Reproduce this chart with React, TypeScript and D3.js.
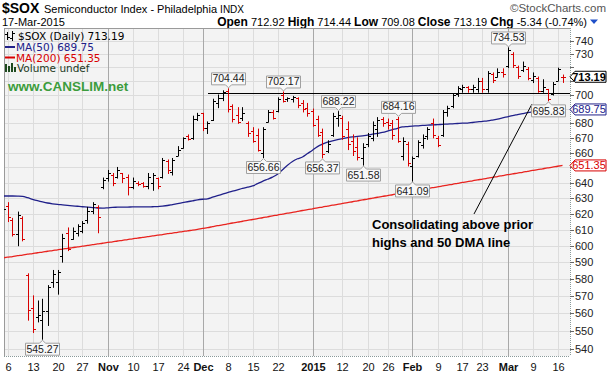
import React from 'react';
import * as d3 from 'd3';

// Bars start on Oct 3, 2014 (index -1) and end on Mar 17, 2015 (index 111)
const FIRST_INDEX = -1;
const opens = [619,625,616,607,617,582,563,558,556,561,578,578,594,608,604,608,609,616,622,624,637,643,645,644,646,644,637,640,639.5,638,640,643,644,654,647,658,663,671,670,683,687,677,682,694,698,703,692,686,684,680,675,672,660,681,688,689,700,697,697,698,694,691,689,683,674,661,672,684,684,676,668,664,656,666,670,676,683,681,680,683,658,666,651,658,665,671,680,670,672,688,692,701,704,706,704,704,710,704,715,713,717,721,730,720,718,719,711,712,703,704,701,710,712.92];
const highs = [626,627,617,621,618,583,570,567,568,576,585,585,607,611,611,613,615,624,627,625,643,648,646,650,646,645,643,640.5,640,646,646,643,656,655,656,664,670,672,685,687,687,681,697,700,703,704.44,693,691,691,681,677,676,677,689,689,698,702.17,698,699,698,696,694,690,685,676,668,687,688.22,685,681,672,670,666,673,681,684,684,683,682,684.16,670,667,657,668,672,677,683,671,689,692,701,706,707,706,707,712,712,717,716,719,719,734.53,731,721,724,720,716,713,711,704,709,719.5,714.44];
const lows = [617,615,606,600,603,556,549,555,545.27,553,575,571,590,597,604,606,608,614,620,608,636,641,638,643,640,632,636,638,637,636,635,636,643,646,645,658,663,668.5,669,682,675,673,682,691,696,688,681,680,682,671,667,661,656.66,681,683,688,695,695.5,695,691,688,685,678,671,656.37,660,671,678,669,662,658,655,651.58,664,668,671,678,676,669,667,655,651,641.09,657,663,669,670,664,671,685,691,699,702,702,702,702,702,702,709,713,713,720,720,712,717,711,709,702,702,695.83,700,710.5,709.08];
const closes = [623,618,607,619,604,562,551,559,561,575,583,584,605,598,609,612,614,622,626,618,642,646,640,648,643,637,641,639,638,644,645,638,655,648,655,662,670,669,683,686,677,680,696,698,702,690,683,681,687,673,668,662,676,688,684,697,696,698,698.5,693,690,687,679,672,659,666,685,686,671,666,661,657,664,671,679,682,680,679,672,667.5,668,653,656,667,670,676,672,665,688,691,700,705,706,704,706,710,704,716,711,717,715,733,722,714,721,712,714,703,706,697,708,718.53,713.19];
const ma50 = [631.3,631.3,631.3,631.2,631.0,630.2,629.2,628.3,627.5,626.8,626.3,625.9,625.6,625.3,625.0,624.7,624.4,624.2,623.9,623.6,623.5,623.7,624.0,624.1,624.2,624.2,624.3,624.3,624.3,624.3,624.4,624.5,624.8,625.2,625.8,626.4,627.0,627.6,628.2,628.8,629.2,629.5,630.5,631.5,632.5,633.5,634.4,635.3,636.2,637.0,637.8,639.3,640.8,642.2,643.6,645.5,648.5,651.5,654.0,655.8,657.0,659.3,661.6,664.0,665.7,667.0,668.0,668.8,669.5,670.1,670.6,671.0,671.4,671.8,672.5,673.1,673.7,674.6,675.6,676.6,677.5,677.8,678.1,678.3,678.6,678.8,678.9,679.1,679.3,679.5,679.7,679.9,680.1,680.2,680.6,681.0,681.4,681.7,682.3,683.0,683.8,684.6,685.4,686.1,686.8,687.5,688.0,688.4,688.7,689.0,689.3,689.55,689.75];
const ma200 = [592.5,593.0,593.4,593.9,594.3,594.8,595.2,595.7,596.1,596.6,597.0,597.5,597.9,598.4,598.8,599.3,599.7,600.2,600.6,601.1,601.5,602.0,602.4,602.9,603.3,603.8,604.2,604.7,605.1,605.6,606.0,606.5,606.9,607.4,607.8,608.3,608.7,609.2,609.6,610.1,610.7,611.2,611.8,612.4,612.9,613.5,614.1,614.6,615.2,615.8,616.3,616.9,617.4,618.0,618.6,619.1,619.7,620.3,620.8,621.4,622.0,622.5,623.1,623.7,624.2,624.8,625.4,625.9,626.5,627.1,627.6,628.2,628.8,629.3,629.9,630.5,631.0,631.6,632.1,632.7,633.3,633.8,634.4,635.0,635.5,636.1,636.7,637.2,637.8,638.4,638.9,639.5,640.1,640.6,641.2,641.8,642.3,642.9,643.5,644.0,644.6,645.2,645.7,646.3,646.8,647.4,648.0,648.5,649.1,649.7,650.2,650.8,651.35];

const xTickLabels = ['6','13','20','27','Nov','10','17','24','Dec','8','15','22','2015','12','20','26','Feb','9','17','23','Mar','9','16'];
const xTickBars = [0,5,10,15,20,25,30,35,39,44,49,54,61,67,72,76,81,86,91,95,100,105,110];
const monthLabels = ['Nov','Dec','2015','Feb','Mar'];
const yTicks = [540,550,560,570,580,590,600,610,620,630,640,650,660,670,680,690,700,710,720,730,740];

const highLabelBars = [44,55,66,78,100];
const highLabelValues = [704.44,702.17,688.22,684.16,734.53];
const lowLabelBars = [7,51,63,71,81,108];
const lowLabelValues = [545.27,656.66,656.37,651.58,641.09,695.83];

const tagValues = [713.19, 689.75, 651.35];

const resistanceLevel = 701.5;
const resistanceFromBar = 40.1;
const arrowBars = [104.9, 93.3];
const arrowValues = [693.6, 619.8];

const PL = 4, PR = 570, PT = 28, PB = 356;
const RED = '#d80000';
const NAVY = '#20208a';
const FONT = '"Liberation Sans", Arial, sans-serif';
const LFONT = '"DejaVu Sans", Verdana, sans-serif';

export default function App() {
  const x = d3.scaleLinear().domain([-1, 111]).range([2.5, 562.5]);
  const y = d3.scaleLog().domain([540, 740]).range([348.7, 40.7]);
  const px = (i: number) => Math.round(x(i)) + 0.5;
  const bars = closes.map((c, k) => {
    const i = k + FIRST_INDEX;
    const prev = k > 0 ? closes[k - 1] : c;
    return { i, o: opens[k], h: highs[k], l: lows[k], c, up: c >= prev };
  });
  const line = (vals: number[]) =>
    d3.line<number>().x((_, k) => x(k + FIRST_INDEX)).y((v) => y(v)).curve(d3.curveMonotoneX)(vals) || '';

  const calloutUp = (cx: number, by: number, w: number, h: number) => {
    const top = by - 4 - h, bot = by - 4;
    return `M${cx - w / 2},${top}H${cx + w / 2}V${bot}H${cx + 3}L${cx},${by - 1}L${cx - 3},${bot}H${cx - w / 2}Z`;
  };
  const calloutDown = (cx: number, ty: number, w: number, h: number) => {
    const top = ty + 4, bot = ty + 4 + h;
    return `M${cx - w / 2},${top}H${cx - 3}L${cx},${ty + 1}L${cx + 3},${top}H${cx + w / 2}V${bot}H${cx - w / 2}Z`;
  };
  const tag = (vy: number) => {
    const l = 570, r = 606, h = 5.5;
    return `M${l},${vy}L${l + 5},${vy - h}H${r}V${vy + h}H${l + 5}Z`;
  };
  const visibleTicks = yTicks.filter((t) => tagValues.every((v) => Math.abs(y(t) - y(v)) > 10));

  return (
    <svg width={613} height={376} style={{ position: 'absolute', left: 0, top: 0, display: 'block', background: '#fff' }}>
      <defs>
        <clipPath id="plot">
          <rect x={PL} y={PT} width={PR - PL} height={PB - PT} />
        </clipPath>
      </defs>
      {/* header */}
      <text x={2} y={13} fontFamily={FONT} fontWeight="bold" fontSize={14} fill="#000">$SOX</text>
      <text x={44} y={12.5} fontFamily={FONT} fontSize={11} fill="#000">Semiconductor Index - Philadelphia <tspan fontSize={10}>INDX</tspan></text>
      <text x={606} y={12} textAnchor="end" fontFamily={FONT} fontSize={11.5} fill="#555">©StockCharts.com</text>
      <text x={2} y={26} fontFamily={FONT} fontSize={11} fill="#000">17-Mar-2015</text>
      <text x={587} y={26} textAnchor="end" fontFamily={FONT} fontSize={11} fill="#000">
        <tspan fontWeight="bold" fontSize={12}>Open</tspan> 712.92 <tspan fontWeight="bold" fontSize={12}>High</tspan> 714.44 <tspan fontWeight="bold" fontSize={12}>Low</tspan> 709.08 <tspan fontWeight="bold" fontSize={12}>Close</tspan> 713.19 <tspan fontWeight="bold" fontSize={12}>Chg</tspan> -5.34 (-0.74%)
      </text>
      <path d="M590,19.5H598L594,24Z" fill="#1f4fc8" />

      {/* plot background */}
      <rect x={PL} y={PT} width={PR - PL} height={PB - PT} fill="#f3f3f3" />
      {yTicks.map((t) => (
        <line key={'hg' + t} x1={PL} x2={PR} y1={Math.round(y(t)) + 0.5} y2={Math.round(y(t)) + 0.5} stroke="#dcdcdc" strokeWidth={1} />
      ))}
      {xTickBars.map((b, k) => (
        <line key={'vg' + k} x1={px(b)} x2={px(b)} y1={PT} y2={PB}
          stroke={monthLabels.includes(xTickLabels[k]) ? '#a8a8a8' : '#dcdcdc'} strokeWidth={1} />
      ))}
      <line x1={PL + 0.5} x2={PL + 0.5} y1={PT} y2={PB} stroke="#9a9a9a" />
      <line x1={PL} x2={PR} y1={PT + 0.5} y2={PT + 0.5} stroke="#9a9a9a" />
      <line x1={PR + 0.5} x2={PR + 0.5} y1={PT} y2={PB} stroke="#8a9a9a" strokeDasharray="1,1" />
      <line x1={PL} x2={PR} y1={PB + 0.5} y2={PB + 0.5} stroke="#8a9a9a" strokeDasharray="1,1" />

      <g clipPath="url(#plot)">
        <path d={line(ma200)} fill="none" stroke="#e8231f" strokeWidth={1.3} />
        <path d={line(ma50)} fill="none" stroke={NAVY} strokeWidth={1.3} />
        <line x1={x(resistanceFromBar)} x2={PR} y1={Math.round(y(resistanceLevel)) + 0.5} y2={Math.round(y(resistanceLevel)) + 0.5} stroke="#000" strokeWidth={1} />
        <line x1={x(arrowBars[0])} y1={y(arrowValues[0])} x2={x(arrowBars[1])} y2={y(arrowValues[1])} stroke="#000" strokeWidth={1} />
        {bars.map((b) => {
          const xx = px(b.i);
          const col = b.up ? '#000' : RED;
          return (
            <g key={'b' + b.i} stroke={col} strokeWidth={1}>
              <line x1={xx} x2={xx} y1={y(b.h) - 0.5} y2={y(b.l) + 0.5} />
              <line x1={xx - 2.5} x2={xx} y1={Math.round(y(b.o)) + 0.5} y2={Math.round(y(b.o)) + 0.5} />
              <line x1={xx} x2={xx + 2.5} y1={Math.round(y(b.c)) + 0.5} y2={Math.round(y(b.c)) + 0.5} />
            </g>
          );
        })}
      </g>

      {highLabelBars.map((b, k) => {
        const cx = px(b), by = y(highs[b - FIRST_INDEX]);
        return (
          <g key={'hl' + k}>
            <path d={calloutUp(cx, by, 34, 12)} fill="#f8f8f8" stroke="#a0a0a0" strokeWidth={1} />
            <text x={cx} y={by - 7} textAnchor="middle" fontFamily={FONT} fontSize={10.5} fill="#222">{highLabelValues[k].toFixed(2)}</text>
          </g>
        );
      })}
      {lowLabelBars.map((b, k) => {
        const cx = px(b), ty = y(lows[b - FIRST_INDEX]);
        return (
          <g key={'ll' + k}>
            <path d={calloutDown(cx, ty, 34, 12)} fill="#f8f8f8" stroke="#a0a0a0" strokeWidth={1} />
            <text x={cx} y={ty + 14} textAnchor="middle" fontFamily={FONT} fontSize={10.5} fill="#222">{lowLabelValues[k].toFixed(2)}</text>
          </g>
        );
      })}

      {/* legend */}
      <g fontFamily={LFONT} fontSize={10.5}>
        <g stroke="#000" strokeWidth={1}>
          <line x1={7.5} x2={7.5} y1={32} y2={40} /><line x1={5} x2={7.5} y1={34.5} y2={34.5} /><line x1={7.5} x2={10} y1={37.5} y2={37.5} />
          <line x1={12.5} x2={12.5} y1={31} y2={41} /><line x1={10} x2={12.5} y1={38.5} y2={38.5} /><line x1={12.5} x2={15} y1={33.5} y2={33.5} />
        </g>
        <text x={18} y={40} fill="#000">$SOX (Daily) 713.19</text>
        <line x1={5} x2={15} y1={47} y2={47} stroke={NAVY} strokeWidth={2} />
        <text x={16} y={51} fill={NAVY}>MA(50) 689.75</text>
        <line x1={5} x2={15} y1={57.5} y2={57.5} stroke={RED} strokeWidth={2} />
        <text x={16} y={61.5} fill={RED}>MA(200) 651.35</text>
        <g fill="#1e4a1e">
          <rect x={5} y={64} width={2} height={8} /><rect x={8} y={66} width={2} height={6} /><rect x={11} y={63} width={2} height={9} /><rect x={14} y={67} width={2} height={5} />
        </g>
        <text x={17} y={72} fill="#1e3a1e">Volume undef</text>
      </g>
      <text x={8} y={91} fontFamily={FONT} fontWeight="bold" fontSize={13.5} fill="#3c9c3c">www.CANSLIM.net</text>

      <text fontFamily={FONT} fontWeight="bold" fontSize={13} fill="#000">
        <tspan x={372} y={229}>Consolidating above prior</tspan>
        <tspan x={372} y={247}>highs and 50 DMA line</tspan>
      </text>

      {yTicks.map((t) => (
        <line key={'ytm' + t} x1={PR} x2={PR + 4} y1={Math.round(y(t)) + 0.5} y2={Math.round(y(t)) + 0.5} stroke="#666" />
      ))}
      {visibleTicks.map((t) => (
        <text key={'yt' + t} x={PR + 5} y={y(t) + 4} fontFamily={FONT} fontSize={11} fill="#222">{t}</text>
      ))}
      <path d={tag(y(tagValues[0]))} fill="#fff" stroke="#000" strokeWidth={1} />
      <text x={589} y={y(tagValues[0]) + 4} textAnchor="middle" fontFamily={FONT} fontWeight="bold" fontSize={11} fill="#000">713.19</text>
      <path d={tag(y(tagValues[1]))} fill="#fff" stroke={NAVY} strokeWidth={1} />
      <text x={589} y={y(tagValues[1]) + 4} textAnchor="middle" fontFamily={FONT} fontSize={11} fill={NAVY}>689.75</text>
      <path d={tag(y(tagValues[2]))} fill="#fff" stroke={RED} strokeWidth={1} />
      <text x={589} y={y(tagValues[2]) + 4} textAnchor="middle" fontFamily={FONT} fontSize={11} fill={RED}>651.35</text>

      {xTickBars.map((b, k) => (
        <text key={'xt' + k} x={px(b)} y={371} textAnchor="middle" fontFamily={FONT} fontSize={11}
          fontWeight={monthLabels.includes(xTickLabels[k]) ? 'bold' : 'normal'} fill="#111">{xTickLabels[k]}</text>
      ))}
    </svg>
  );
}
